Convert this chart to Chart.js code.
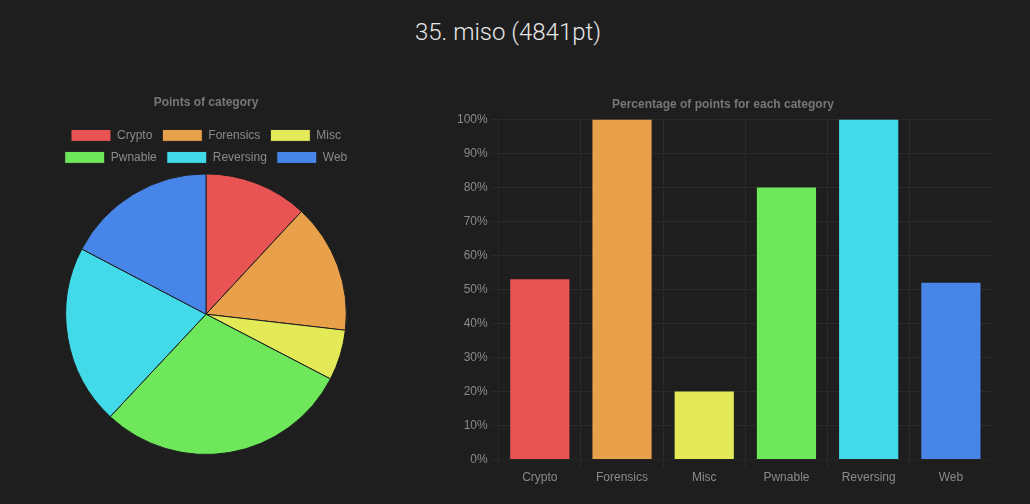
<!DOCTYPE html>
<html>
<head>
<meta charset="utf-8">
<script src="https://cdn.jsdelivr.net/npm/chart.js@4"></script>
<style>
  body { margin: 0; background: #1e1e1e; width: 1030px; height: 504px; overflow: hidden; font-family: Roboto, sans-serif; }
  h1 { position: absolute; top: 18px; width: 100%; margin: 0; text-align: center; color: #e6e6e6; font-weight: 300; font-size: 24px; margin-left: -7px; }
  #pieBox { position: absolute; left: 50px; top: 93px; width: 312px; height: 362px; }
  #barBox { position: absolute; left: 454px; top: 95px; width: 538px; height: 393px; }
</style>
</head>
<body>
<h1>35. miso (4841pt)</h1>
<div id="pieBox"><canvas id="pieChart" width="312" height="362"></canvas></div>
<div id="barBox"><canvas id="barChart" width="538" height="393"></canvas></div>
<script>
const categories = ['Crypto', 'Forensics', 'Misc', 'Pwnable', 'Reversing', 'Web'];
const categoryPoints = [576, 721, 281, 1418, 1002, 837];
const categoryPercent = [53, 100, 20, 80, 100, 52];
const colors = ['#e85353', '#e8a04a', '#e4e958', '#6ee85a', '#42d9e8', '#4785e8'];

Chart.defaults.color = '#8a8a8a';
Chart.defaults.font.family = '"Liberation Sans", Arial, sans-serif';

// 왼쪽 파이 차트
new Chart(document.getElementById('pieChart'), {
    type: 'pie',
    data: {
        labels: categories,
        datasets: [{ data: categoryPoints, backgroundColor: colors, borderColor: '#1e1e1e', borderWidth: 1 }]
    },
    options: {
        responsive: false,
        animation: false,
        plugins: {
            title: { display: true, text: 'Points of category', font: { size: 12, weight: 'bold' }, color: '#777', padding: { top: 2, bottom: 10 } },
            legend: { labels: { boxWidth: 40, boxHeight: 12, font: { size: 12 }, padding: 10 } }
        }
    }
});

// 오른쪽 막대 차트
new Chart(document.getElementById('barChart'), {
    type: 'bar',
    data: {
        labels: categories,
        datasets: [{ data: categoryPercent, backgroundColor: colors, categoryPercentage: 0.72, barPercentage: 1 }]
    },
    options: {
        responsive: false,
        animation: false,
        plugins: {
            title: { display: true, text: 'Percentage of points for each category', font: { size: 12, weight: 'bold' }, color: '#777', padding: { top: 2, bottom: 8 } },
            legend: { display: false }
        },
        scales: {
            x: { grid: { color: '#2a2a2a' }, ticks: { font: { size: 12 } } },
            y: {
                min: 0, max: 100,
                grid: { color: '#2a2a2a' },
                ticks: { stepSize: 10, font: { size: 12 }, callback: v => v + '%' }
            }
        }
    }
});
</script>
</body>
</html>
